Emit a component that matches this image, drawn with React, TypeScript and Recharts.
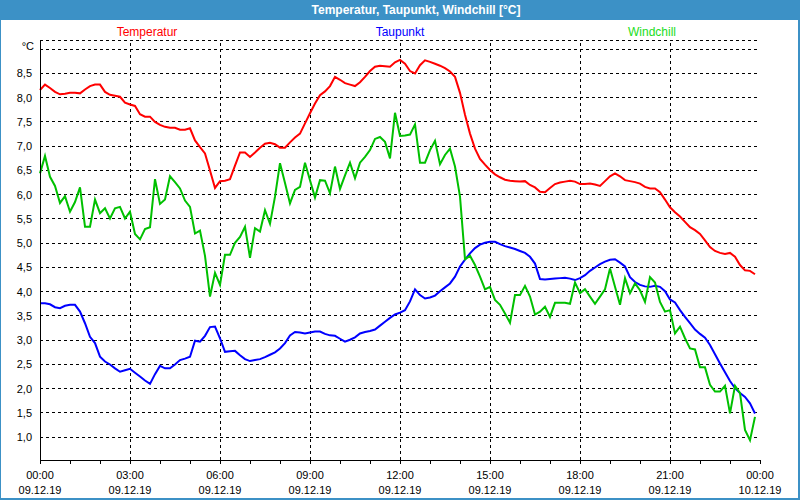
import { LineChart, Line, XAxis, YAxis, CartesianGrid, ReferenceLine } from 'recharts';

// 10-minute readings, 09.12.19 00:00 .. 23:50
const temperatur = [
  8.16, 8.27, 8.2, 8.12, 8.07, 8.08, 8.1, 8.1, 8.09, 8.17, 8.24, 8.27, 8.27, 8.12, 8.06, 8.04,
  8.02, 7.9, 7.86, 7.83, 7.66, 7.61, 7.61, 7.5, 7.44, 7.4, 7.38, 7.38, 7.34, 7.34, 7.37, 7.12,
  6.98, 6.85, 6.5, 6.14, 6.28, 6.29, 6.32, 6.6, 6.87, 6.87, 6.78, 6.87, 6.97, 7.05, 7.07, 7.04,
  6.97, 6.97, 7.08, 7.18, 7.26, 7.47, 7.68, 7.88, 8.05, 8.13, 8.24, 8.43, 8.37, 8.3, 8.27, 8.24,
  8.32, 8.43, 8.55, 8.64, 8.66, 8.65, 8.64, 8.73, 8.78, 8.7, 8.55, 8.5, 8.67, 8.77, 8.74, 8.7,
  8.66, 8.61, 8.54, 8.43, 8.1, 7.65, 7.26, 6.95, 6.74, 6.62, 6.51, 6.42, 6.36, 6.31, 6.29, 6.28,
  6.27, 6.28, 6.2, 6.15, 6.06, 6.05, 6.14, 6.22, 6.25, 6.27, 6.29, 6.27, 6.22, 6.22, 6.23, 6.21,
  6.18, 6.28, 6.38, 6.44, 6.38, 6.3, 6.28, 6.26, 6.23, 6.16, 6.13, 6.13, 6.05, 5.9, 5.74, 5.64,
  5.55, 5.44, 5.33, 5.27, 5.19, 5.06, 4.92, 4.84, 4.8, 4.78, 4.8, 4.72, 4.55, 4.44, 4.43, 4.36,
];

const taupunkt = [
  3.76, 3.76, 3.74, 3.68, 3.66, 3.71, 3.73, 3.73, 3.59, 3.35, 3.07, 2.94, 2.66, 2.56, 2.5, 2.42,
  2.35, 2.38, 2.41, 2.33, 2.25, 2.17, 2.1, 2.3, 2.47, 2.42, 2.42, 2.5, 2.59, 2.62, 2.66, 2.99,
  2.97, 3.09, 3.27, 3.28, 3.04, 2.76, 2.77, 2.78, 2.69, 2.61, 2.57, 2.59, 2.61, 2.65, 2.7, 2.75,
  2.83, 2.94, 3.1, 3.17, 3.16, 3.14, 3.16, 3.18, 3.18, 3.13, 3.1, 3.09, 3.03, 2.97, 3.01, 3.06,
  3.14, 3.17, 3.19, 3.22, 3.3, 3.38, 3.46, 3.53, 3.57, 3.62, 3.8, 4.05, 3.93, 3.86, 3.88, 3.92,
  4.01, 4.09, 4.17, 4.31, 4.52, 4.66, 4.79, 4.9, 4.97, 5.01, 5.03, 5.03, 4.98, 4.94, 4.91, 4.88,
  4.84, 4.8, 4.72, 4.58, 4.26, 4.25, 4.26, 4.27, 4.28, 4.29, 4.27, 4.24, 4.28, 4.34, 4.43, 4.5,
  4.57, 4.62, 4.66, 4.67, 4.6, 4.52, 4.3, 4.2, 4.14, 4.11, 4.1, 4.12, 4.1, 4.01, 3.84, 3.78,
  3.62, 3.48, 3.35, 3.22, 3.13, 3.05, 2.9, 2.71, 2.52, 2.34, 2.16, 2.01, 1.91, 1.83, 1.7, 1.49,
];

const windchill = [
  6.44, 6.8, 6.37, 6.18, 5.83, 5.97, 5.65, 5.85, 6.15, 5.34, 5.34, 5.9, 5.62, 5.72, 5.51, 5.72,
  5.75, 5.51, 5.65, 5.19, 5.08, 5.29, 5.33, 6.32, 5.81, 5.9, 6.38, 6.26, 6.13, 5.88, 5.75, 5.2,
  5.26, 4.74, 3.9, 4.39, 4.14, 4.76, 4.76, 5.01, 5.13, 5.34, 4.7, 5.31, 5.24, 5.68, 5.4, 5.96,
  6.65, 6.24, 5.82, 6.1, 6.16, 6.66, 6.3, 5.94, 6.3, 6.29, 6.03, 6.58, 6.12, 6.4, 6.66, 6.34,
  6.66, 6.78, 6.92, 7.15, 7.19, 7.09, 6.75, 7.69, 7.21, 7.22, 7.24, 7.45, 6.66, 6.66, 6.92, 7.11,
  6.63, 6.82, 6.95, 6.58, 5.96, 4.67, 4.74, 4.55, 4.31, 4.05, 4.1, 3.83, 3.73, 3.55, 3.36, 3.93,
  3.93, 4.12, 3.9, 3.53, 3.59, 3.69, 3.48, 3.77, 3.77, 3.77, 3.75, 4.19, 3.97, 4.05, 3.9, 3.75,
  3.9, 4.05, 4.48, 4.1, 3.73, 4.28, 3.97, 4.17, 4.03, 3.79, 4.3, 4.19, 3.79, 3.59, 3.62, 3.14,
  3.28, 3.04, 2.83, 2.81, 2.44, 2.44, 2.08, 1.94, 1.94, 2.06, 1.49, 2.06, 1.91, 1.15, 0.94, 1.42,
];

const timeLabels = ['00:00', '03:00', '06:00', '09:00', '12:00', '15:00', '18:00', '21:00', '00:00'];
const dateLabels = ['09.12.19', '09.12.19', '09.12.19', '09.12.19', '09.12.19', '09.12.19', '09.12.19', '09.12.19', '10.12.19'];
const yTicks = [1, 1.5, 2, 2.5, 3, 3.5, 4, 4.5, 5, 5.5, 6, 6.5, 7, 7.5, 8, 8.5, 9];

const series = [
  { key: 'temperatur', name: 'Temperatur', color: '#ff0000', legend: '#ff0000', center: 147 },
  { key: 'taupunkt', name: 'Taupunkt', color: '#0000ff', legend: '#0000ff', center: 400 },
  { key: 'windchill', name: 'Windchill', color: '#00c000', legend: '#22dd22', center: 652 },
];

const STEP = 10; // minutes
const data = temperatur.map((v, i) => ({
  t: i * STEP,
  temperatur: v,
  taupunkt: taupunkt[i],
  windchill: windchill[i],
}));

const hourTicks = Array.from({ length: 25 }, (_, h) => h * 60);
const gridTimes = hourTicks.filter((t) => t % 180 === 0 && t > 0 && t < 1440);

const FONT = '"Liberation Sans", Arial, sans-serif';
const BLUE = '#3c91c6';

function XTick({ x, y, payload }: any) {
  const t = payload.value;
  if (t % 180 !== 0) return null;
  const k = t / 180;
  return (
    <g>
      <text x={x} y={y + 13} textAnchor="middle" fontSize={11} fontFamily={FONT} fill="#000">
        {timeLabels[k]}
      </text>
      <text x={x} y={y + 28} textAnchor="middle" fontSize={11} fontFamily={FONT} fill="#000">
        {dateLabels[k]}
      </text>
    </g>
  );
}

function YTick({ x, y, payload }: any) {
  const v = payload.value;
  const label = v === 9 ? '°C' : v.toFixed(1).replace('.', ',');
  return (
    <text x={x + (v === 9 ? 2 : 0)} y={y + 4 - (v === 9 ? 3 : 0)} textAnchor="end" fontSize={11} fontFamily={FONT} fill="#000">
      {label}
    </text>
  );
}

export default function App() {
  return (
    <div style={{ position: 'absolute', left: 0, top: 0, width: 800, height: 500, background: '#fff', fontFamily: FONT }}>
      <style>{`
        .recharts-cartesian-grid line, .recharts-reference-line line,
        .recharts-cartesian-axis-line, .recharts-cartesian-axis-tick-line { shape-rendering: crispEdges; }
      `}</style>
      <LineChart width={800} height={500} data={data} margin={{ top: 40, right: 40, bottom: 0, left: 0 }}>
        <CartesianGrid vertical={false} stroke="#000" strokeDasharray="3 3" />
        {gridTimes.map((t) => (
          <ReferenceLine key={t} x={t} stroke="#000" strokeDasharray="3 3" />
        ))}
        <XAxis
          dataKey="t"
          type="number"
          domain={[0, 1440]}
          ticks={hourTicks}
          interval={0}
          height={40}
          tickSize={4}
          tickMargin={2}
          tick={<XTick />}
          axisLine={{ stroke: '#000' }}
          tickLine={{ stroke: '#000' }}
        />
        <XAxis xAxisId="top" orientation="top" type="number" domain={[0, 1440]} height={0} ticks={[]} tick={false} tickLine={false} axisLine={{ stroke: '#000' }} />
        <YAxis
          type="number"
          domain={[0.53, 9.19]}
          ticks={yTicks}
          interval={0}
          allowDataOverflow
          width={40}
          tickLine={false}
          tickSize={6}
          tickMargin={2}
          tick={<YTick />}
          axisLine={{ stroke: '#000' }}
        />
        <YAxis yAxisId="right" orientation="right" type="number" domain={[0.53, 9.19]} width={0} ticks={[]} tick={false} tickLine={false} axisLine={{ stroke: '#000' }} />
        {series.map((s) => (
          <Line
            key={s.key}
            type="linear"
            dataKey={s.key}
            name={s.name}
            stroke={s.color}
            strokeWidth={2}
            dot={false}
            isAnimationActive={false}
          />
        ))}
      </LineChart>
      <div
        style={{
          position: 'absolute', left: 0, top: 0, width: 800, height: 20, background: BLUE,
          color: '#fff', fontWeight: 'bold', fontSize: 12, lineHeight: '20px',
        }}
      >
        <span style={{ position: 'absolute', left: 416, top: 0, transform: 'translateX(-50%)', whiteSpace: 'nowrap' }}>
          Temperatur, Taupunkt, Windchill [°C]
        </span>
      </div>
      {series.map((s) => (
        <span
          key={s.key}
          style={{
            position: 'absolute', left: s.center, top: 24, transform: 'translateX(-50%)',
            color: s.legend, fontSize: 12, lineHeight: '16px', whiteSpace: 'nowrap',
          }}
        >
          {s.name}
        </span>
      ))}
      <div
        style={{
          position: 'absolute', left: 0, top: 0, width: 800, height: 500, boxSizing: 'border-box',
          borderStyle: 'solid', borderColor: BLUE, borderWidth: '0 2px 2px 1px', pointerEvents: 'none',
        }}
      />
    </div>
  );
}
